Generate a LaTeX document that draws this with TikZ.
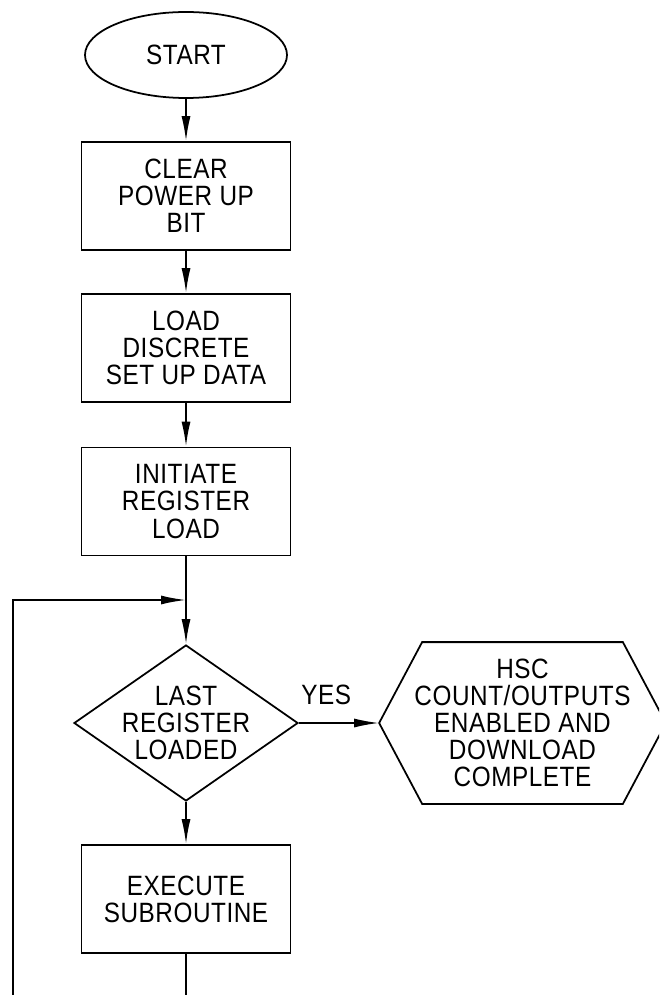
\documentclass[tikz,border=0pt]{standalone}
\usepackage{fontspec}
\newfontfamily\draftfont[FakeStretch=0.87, LetterSpace=2]{Liberation Sans}
\usetikzlibrary{shapes.geometric, arrows.meta}

\tikzset{
  flow/.style={draw, line width=1pt, align=center, inner sep=0pt,
    font=\draftfont\fontsize{15.9}{15.4}\selectfont},
  box/.style={flow, rectangle, minimum width=4.18cm, minimum height=2.16cm},
  arr/.style={line width=1pt, -{Latex[length=5mm,width=1.8mm]}}
}

\begin{document}
\begin{tikzpicture}
\useasboundingbox (0,0) rectangle (13.18,-19.9);
\clip (0,0) rectangle (13.18,-19.9);

% start and the three set up steps
\node[flow, ellipse, minimum width=4.04cm, minimum height=1.72cm] (start) at (3.72,-1.1) {START};
\node[box] (clear) at (3.72,-3.92) {CLEAR\\POWER UP\\BIT};
\node[box] (load) at (3.72,-6.96) {LOAD\\DISCRETE\\SET UP DATA};
\node[box] (init) at (3.72,-10.03) {INITIATE\\REGISTER\\LOAD};

% decision, its exit and the subroutine
\node[flow, diamond, aspect=1.44, inner sep=-0.08cm, minimum width=4.48cm, minimum height=3.12cm] (dec) at (3.72,-14.46) {LAST\\REGISTER\\LOADED};
\node[flow, draw=none, minimum width=5.7cm, minimum height=3.2cm] (hsc) at (10.45,-14.46) {HSC\\COUNT/OUTPUTS\\ENABLED AND\\DOWNLOAD\\COMPLETE};
\draw[line width=1pt] ([xshift=0.86cm]hsc.north west) -- ([xshift=-0.86cm]hsc.north east) -- (hsc.east)
  -- ([xshift=-0.86cm]hsc.south east) -- ([xshift=0.86cm]hsc.south west) -- (hsc.west) -- cycle;
\node[box] (exec) at (3.72,-17.98) {EXECUTE\\SUBROUTINE};

\coordinate (join) at (3.72,-12.0);
\coordinate (back) at (0.26,-20.6);

% straight arrows
\foreach \a/\b in {start/clear, clear/load, load/init}
  \draw[arr] (\a) -- (\b);
\draw[line width=1pt] (init) -- (join);
\draw[arr] (join) -- (dec);
\draw[arr] (dec) -- (exec);
\draw[arr] (dec) -- node[pos=0.34, above=0.22cm, font=\draftfont\fontsize{15.9}{15.4}\selectfont] (yes) {YES} (hsc);

% loop back
\draw[arr] (exec) -- (exec |- back) -- (back) |- (join);

\end{tikzpicture}
\end{document}
